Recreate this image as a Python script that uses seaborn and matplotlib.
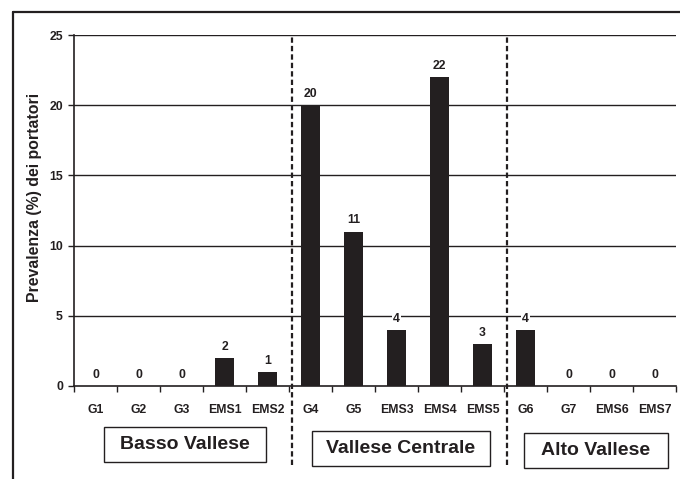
import matplotlib
matplotlib.use("Agg")
import matplotlib.pyplot as plt
import seaborn as sns
import pandas as pd
from matplotlib.lines import Line2D
from matplotlib.patches import Rectangle

# data
categories = ['G1', 'G2', 'G3', 'EMS1', 'EMS2',
              'G4', 'G5', 'EMS3', 'EMS4', 'EMS5',
              'G6', 'G7', 'EMS6', 'EMS7']
prevalence = [0, 0, 0, 2, 1, 20, 11, 4, 22, 3, 4, 0, 0, 0]
groups = ['Basso Vallese', 'Vallese Centrale', 'Alto Vallese']
group_sizes = [5, 5, 4]

df = pd.DataFrame({'campione': categories, 'prevalenza': prevalence})

sns.set_theme(style="white")
plt.rcParams['font.family'] = ['Liberation Sans', 'DejaVu Sans']
ink = '#231f20'

fig = plt.figure(figsize=(6.8, 4.79), dpi=100)
ax = fig.add_axes([74 / 680, 1 - 386 / 479, 602 / 680, 351 / 479])

sns.barplot(data=df, x='campione', y='prevalenza', order=categories,
            color=ink, saturation=1, width=0.44, linewidth=0, ax=ax)

ax.set_ylim(0, 25)
ax.set_xlim(-0.5, len(categories) - 0.5)
ax.set_yticks([0, 5, 10, 15, 20, 25])
for v in [5, 10, 15, 20, 25]:
    ax.axhline(v, color=ink, lw=1, zorder=0)

# ticks at category boundaries, labels at centres
ax.set_xticks([i - 0.5 for i in range(len(categories) + 1)])
ax.set_xticklabels([])
ax.set_xticks(range(len(categories)), minor=True)
ax.set_xticklabels(categories, minor=True, fontsize=8.8, fontweight='bold', color=ink)
ax.tick_params(axis='x', which='major', direction='out', length=4, width=1, color=ink, bottom=True)
ax.tick_params(axis='x', which='minor', length=0, pad=13)
ax.tick_params(axis='y', direction='out', length=4, width=1, color=ink, left=True, pad=4)
for lab in ax.get_yticklabels():
    lab.set_fontsize(8.8)
    lab.set_fontweight('bold')
    lab.set_color(ink)

for side in ['top', 'right']:
    ax.spines[side].set_visible(False)
for side in ['left', 'bottom']:
    ax.spines[side].set_color(ink)
    ax.spines[side].set_linewidth(1.2)

ax.set_xlabel('')
ax.set_ylabel('Prevalenza (%) dei portatori', fontsize=11.4, fontweight='bold', color=ink)
ax.yaxis.set_label_coords(-0.053, 0.537)

# value labels
for i, v in enumerate(prevalence):
    ax.annotate(f'{v}', (i, v), xytext=(0, 6), textcoords='offset points',
                ha='center', va='baseline', fontsize=8.8, fontweight='bold', color=ink,
                bbox=dict(facecolor='white', edgecolor='none', pad=0.8))

# dashed separators between groups
pos = 0
for n in group_sizes[:-1]:
    pos += n
    ax.axvline(pos - 0.43, ymin=-0.225, ymax=0.994, color=ink, lw=1.6,
               dashes=(2.4, 1.4), clip_on=False, zorder=5)

# group label boxes
boxes = [(104, 427, 266, 462), (312, 431, 490, 466), (524, 433, 668, 468)]
for name, (x0, y0, x1, y1) in zip(groups, boxes):
    fig.patches.append(Rectangle((x0 / 680, 1 - y1 / 479), (x1 - x0) / 680, (y1 - y0) / 479,
                                 transform=fig.transFigure, fill=False, edgecolor=ink, lw=1))
    fig.text((x0 + x1) / 2 / 680, 1 - (y0 + y1) / 2 / 479, name, ha='center', va='center',
             fontsize=14, fontweight='bold', color=ink)

# outer frame (top and left edges)
fig.lines.append(Line2D([13 / 680, 1.0], [1 - 12 / 479, 1 - 12 / 479], transform=fig.transFigure, color=ink, lw=1.6))
fig.lines.append(Line2D([13 / 680, 13 / 680], [0, 1 - 12 / 479], transform=fig.transFigure, color=ink, lw=1.6))

fig.savefig('out.png', dpi=100)
